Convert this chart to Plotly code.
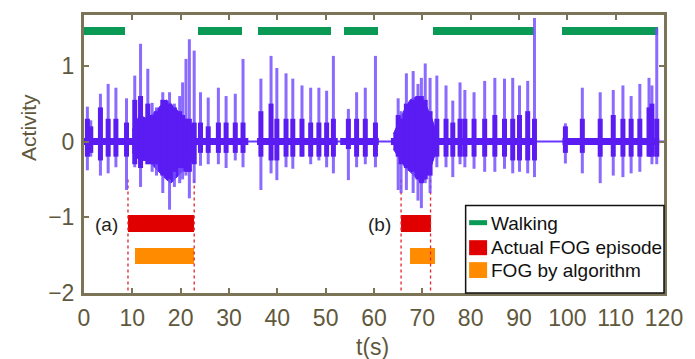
import plotly.graph_objects as go

# ---------------- data ----------------
# spike events: time (s), peak, trough, dense-core top, dense-core bottom
spike_t = [0.7, 1.4, 3.4, 5.0, 6.6, 8.8,
           10.5, 11.7, 13.2, 14.1, 15.0, 16.3, 17.7, 18.7, 19.8, 20.4, 21.1, 21.8, 22.8,
           24.1, 25.7, 27.8, 29.4, 31.3, 32.9,
           36.6, 38.7, 39.9, 41.8, 43.2, 45.1, 46.9, 48.6, 50.2, 51.6,
           54.7, 56.4, 58.2, 60.3,
           65.0, 65.6, 66.7, 68.1, 69.1, 69.8, 70.6, 71.6,
           73.0, 74.9, 76.3, 77.8, 78.8, 80.7, 82.9, 85.0, 87.0, 88.7, 90.1, 91.8, 93.2,
           99.6, 103.1, 106.8, 109.5, 111.5, 113.2, 115.0, 116.9, 117.5, 118.5]
spike_top = [0.46, 0.28, 0.63, 0.76, 0.71, 0.57,
             0.87, 1.29, 0.96, 0.51, 0.45, 0.65, 0.65, 0.50, 0.60, 0.78, 1.09, 1.35, 1.20,
             0.65, 0.58, 0.71, 0.60, 0.63, 1.09,
             0.83, 1.13, 0.97, 0.90, 0.83, 0.74, 0.71, 0.71, 0.67, 1.13,
             0.43, 0.65, 0.71, 1.13,
             0.57, 0.40, 0.90, 0.93, 0.76, 0.84, 1.03, 0.84,
             0.87, 0.74, 0.54, 0.78, 0.68, 0.65, 0.80, 0.84, 0.83, 0.84, 0.74, 0.80, 1.63,
             0.24, 0.71, 0.65, 0.68, 0.74, 0.60, 0.76, 0.84, 0.74, 1.50]
spike_bot = [-0.38, -0.20, -0.45, -0.42, -0.34, -0.64,
             -0.34, -0.60, -0.30, -0.40, -0.45, -0.68, -0.90, -0.60, -0.55, -0.50, -0.45, -0.75, -0.55,
             -0.32, -0.30, -0.30, -0.35, -0.25, -0.34,
             -0.64, -0.42, -0.51, -0.34, -0.36, -0.20, -0.30, -0.25, -0.34, -0.42,
             -0.51, -0.34, -0.30, -0.34,
             -0.64, -0.68, -0.64, -0.68, -0.78, -0.88, -0.55, -0.68,
             -0.34, -0.34, -0.47, -0.30, -0.34, -0.36, -0.40, -0.40, -0.36, -0.42, -0.40, -0.42, -0.47,
             -0.29, -0.42, -0.55, -0.45, -0.47, -0.42, -0.40, -0.20, -0.30, -0.30]
core_top = [0.30, 0.20, 0.45, 0.30, 0.30, 0.25,
            0.55, 0.60, 0.50, 0.35, 0.40, 0.55, 0.50, 0.45, 0.40, 0.35, 0.30, 0.30, 0.25,
            0.25, 0.20, 0.25, 0.25, 0.25, 0.25,
            0.40, 0.50, 0.30, 0.30, 0.30, 0.30, 0.25, 0.25, 0.25, 0.30,
            0.30, 0.30, 0.30, 0.25,
            0.35, 0.30, 0.50, 0.55, 0.60, 0.60, 0.55, 0.40,
            0.30, 0.30, 0.25, 0.30, 0.30, 0.30, 0.30, 0.35, 0.30, 0.30, 0.35, 0.40, 0.30,
            0.20, 0.30, 0.30, 0.35, 0.30, 0.30, 0.30, 0.45, 0.50, 0.30]
core_bot = [-0.20, -0.15, -0.25, -0.20, -0.20, -0.20,
            -0.30, -0.35, -0.30, -0.30, -0.30, -0.45, -0.50, -0.40, -0.35, -0.35, -0.40, -0.40, -0.30,
            -0.15, -0.15, -0.15, -0.15, -0.15, -0.15,
            -0.20, -0.25, -0.25, -0.20, -0.20, -0.20, -0.20, -0.20, -0.20, -0.20,
            -0.10, -0.20, -0.20, -0.20,
            -0.20, -0.30, -0.35, -0.40, -0.50, -0.55, -0.50, -0.45,
            -0.20, -0.20, -0.20, -0.20, -0.20, -0.20, -0.20, -0.20, -0.20, -0.25, -0.25, -0.25, -0.25,
            -0.15, -0.15, -0.20, -0.20, -0.20, -0.20, -0.20, -0.20, -0.20, -0.20]
# intervals where the signal carries a dense low-level oscillation
active_start = [0.0, 35.8, 53.0, 63.5, 99.0]
active_end = [34.0, 52.5, 61.0, 93.6, 119.0]
# envelopes of the two dense freezing bursts
blob1_t = [10.0, 11.5, 13.0, 14.0, 15.5, 17.0, 18.0, 19.5, 21.0, 22.0, 23.0]
blob1_top = [0.15, 0.35, 0.30, 0.35, 0.45, 0.55, 0.50, 0.40, 0.30, 0.25, 0.10]
blob1_bot = [-0.15, -0.25, -0.25, -0.30, -0.40, -0.50, -0.55, -0.45, -0.35, -0.30, -0.10]
blob2_t = [64.0, 65.5, 66.5, 67.5, 69.0, 70.0, 71.0, 72.0, 73.0]
blob2_top = [0.10, 0.30, 0.45, 0.55, 0.60, 0.55, 0.45, 0.30, 0.10]
blob2_bot = [-0.10, -0.25, -0.35, -0.40, -0.50, -0.55, -0.45, -0.30, -0.10]

# labelled episodes
walk_start = [0.0, 23.5, 36.0, 53.7, 72.2, 98.8]
walk_end = [8.4, 32.7, 51.2, 60.9, 93.0, 118.7]
fog_start = [9.1, 65.6]
fog_end = [22.8, 71.7]
alg_start = [10.6, 67.5]
alg_end = [22.8, 72.6]
episode_labels = ["(a)", "(b)"]

x_ticks = list(range(0, 121, 10))
y_ticks = [-2, -1, 0, 1]

WALK_Y, FOG_Y, ALG_Y = 1.46, -1.08, -1.51

# ---------------- figure ----------------
fig = go.Figure()

# dotted boundaries of actual FOG episodes
dx, dy = [], []
for s, e in zip(fog_start, fog_end):
    for t in (s, e):
        dx += [t, t, None]
        dy += [-0.5, -2, None]
fig.add_trace(go.Scatter(x=dx, y=dy, mode="lines",
                         line=dict(color="#e8202a", width=1.3, dash="dot"),
                         hoverinfo="skip", showlegend=False))

# episode bars
def hbars(starts, ends, ylev, color, width):
    fig.add_trace(go.Bar(orientation="h",
                         base=starts,
                         x=[e - s for s, e in zip(starts, ends)],
                         y=[ylev] * len(starts),
                         width=width, marker=dict(color=color, line=dict(width=0)),
                         showlegend=False))

hbars(walk_start, walk_end, WALK_Y, "#0a9a55", 0.1)
hbars(fog_start, fog_end, FOG_Y, "#e00000", 0.22)
hbars(alg_start, alg_end, ALG_Y, "#ff8c00", 0.22)

SPIKE = "rgba(118,80,255,0.85)"
CORE = "#5a1cf2"

# baseline of the signal
fig.add_trace(go.Scatter(x=[0, 120], y=[0, 0], mode="lines",
                         line=dict(color="#6a38ff", width=2), showlegend=False))
bx, by = [], []
for s, e in zip(active_start, active_end):
    bx += [s, e, None]
    by += [0, 0, None]
fig.add_trace(go.Scatter(x=bx, y=by, mode="lines",
                         line=dict(color=CORE, width=7), showlegend=False))

# dense bursts
for bt, btop, bbot in [(blob1_t, blob1_top, blob1_bot), (blob2_t, blob2_top, blob2_bot)]:
    fig.add_trace(go.Scatter(x=bt + bt[::-1], y=btop + bbot[::-1], mode="lines",
                             fill="toself", fillcolor=CORE, line=dict(color=CORE, width=1),
                             showlegend=False))

# spikes
sx, sy = [], []
for t, a, b in zip(spike_t, spike_top, spike_bot):
    sx += [t, t, None]
    sy += [b, a, None]
fig.add_trace(go.Scatter(x=sx, y=sy, mode="lines",
                         line=dict(color=SPIKE, width=3), showlegend=False))
cx, cy = [], []
for t, a, b in zip(spike_t, core_top, core_bot):
    cx += [t, t, None]
    cy += [b, a, None]
fig.add_trace(go.Scatter(x=cx, y=cy, mode="lines",
                         line=dict(color=CORE, width=5), showlegend=False))

# episode labels
for lab, s in zip(episode_labels, fog_start):
    fig.add_annotation(x=s - 1.6, y=FOG_Y - 0.02, text=lab, showarrow=False,
                       xanchor="right", yanchor="middle",
                       font=dict(family="Liberation Sans", size=19, color="#222222"))

axis_color = "#7c7456"
tick_font = dict(family="Liberation Sans", size=23, color="#5f583c")

fig.update_xaxes(range=[0, 120], tickvals=x_ticks, ticks="inside", ticklen=5,
                 tickwidth=2, tickcolor=axis_color, showline=True, linewidth=3,
                 linecolor=axis_color, mirror="allticks", showgrid=False, zeroline=False,
                 tickfont=tick_font, ticklabelstandoff=2)
fig.update_yaxes(range=[-2, 1.67], tickvals=y_ticks, ticks="inside", ticklen=5,
                 tickwidth=2, tickcolor=axis_color, showline=True, linewidth=3,
                 linecolor=axis_color, mirror="allticks", showgrid=False, zeroline=False,
                 tickfont=tick_font, ticklabelstandoff=2)

# axis titles
fig.add_annotation(xref="paper", yref="paper", x=0.498, y=-0.196, text="t(s)",
                   showarrow=False, xanchor="center", yanchor="middle",
                   font=dict(family="Liberation Sans", size=23, color="#5f583c"))
fig.add_annotation(xref="paper", yref="paper", x=-0.096, y=0.595, text="Activity",
                   showarrow=False, textangle=-90, xanchor="center", yanchor="middle",
                   font=dict(family="Liberation Sans", size=21, color="#5f583c"))

# legend box
fig.add_shape(type="rect", xref="paper", yref="paper", x0=0.658, x1=1.0, y0=0.0, y1=0.315,
              line=dict(color="#111111", width=1.5), fillcolor="white", layer="above")
legend_items = [("Walking", "#0a9a55", 0.244, 0.262, 0.251),
                ("Actual FOG episode", "#e00000", 0.136, 0.19, 0.165),
                ("FOG by algorithm", "#ff8c00", 0.054, 0.111, 0.082)]
for name, col, y0, y1, yt in legend_items:
    fig.add_shape(type="rect", xref="paper", yref="paper", x0=0.664, x1=0.695, y0=y0, y1=y1,
                  line=dict(width=0), fillcolor=col, layer="above")
    fig.add_annotation(xref="paper", yref="paper", x=0.698, y=yt, text=name, showarrow=False,
                       xanchor="left", yanchor="middle",
                       font=dict(family="Liberation Sans", size=19, color="#111111"))

fig.update_layout(width=695, height=359, margin=dict(l=84, r=27, t=14, b=66),
                  plot_bgcolor="white", paper_bgcolor="white", barmode="overlay",
                  showlegend=False, bargap=0)

fig.write_html("out.html")
